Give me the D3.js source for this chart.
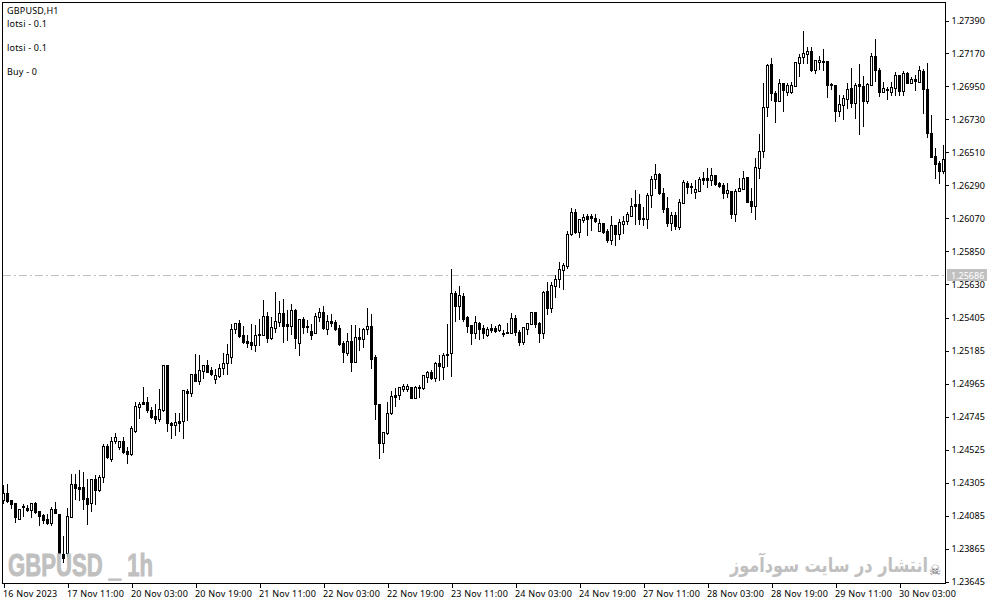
<!DOCTYPE html>
<html><head><meta charset="utf-8">
<script src="https://d3js.org/d3.v7.min.js"></script>
<style>html,body{margin:0;padding:0;background:#fff;overflow:hidden}svg{display:block}</style>
</head><body><div id="c"></div><script>
const opens=[1.24186,1.24232,1.24186,1.24165,1.24059,1.24139,1.24132,1.24119,1.24165,1.24112,
1.24085,1.24059,1.24032,1.24125,1.24092,1.23825,1.23832,1.24072,1.24292,1.24272,
1.24272,1.24199,1.24165,1.24326,1.24252,1.24339,1.24546,1.24459,1.24579,1.24539,
1.24579,1.24513,1.24493,1.24646,1.24806,1.24840,1.24840,1.24786,1.24746,1.24726,
1.24786,1.25087,1.24700,1.24686,1.24713,1.24713,1.24913,1.24900,1.25027,1.24980,
1.25047,1.25087,1.25053,1.24993,1.25013,1.25067,1.25100,1.25140,1.25327,1.25367,
1.25287,1.25247,1.25240,1.25220,1.25294,1.25287,1.25414,1.25267,1.25334,1.25374,
1.25434,1.25360,1.25347,1.25454,1.25234,1.25394,1.25340,1.25314,1.25300,1.25407,
1.25441,1.25327,1.25381,1.25374,1.25334,1.25234,1.25167,1.25247,1.25107,1.25274,
1.25260,1.25327,1.25347,1.25140,1.24826,1.24566,1.24633,1.24766,1.24886,1.24886,
1.24927,1.24927,1.24940,1.24866,1.24933,1.24933,1.25007,1.25040,1.25000,1.25100,
1.25073,1.25154,1.25167,1.25567,1.25481,1.25547,1.25407,1.25354,1.25300,1.25367,
1.25334,1.25287,1.25334,1.25334,1.25320,1.25294,1.25300,1.25300,1.25401,1.25307,
1.25240,1.25327,1.25360,1.25441,1.25367,1.25300,1.25581,1.25467,1.25614,1.25661,
1.25721,1.25748,1.25961,1.26108,1.25975,1.26055,1.26081,1.26081,1.26068,1.25981,
1.26035,1.25981,1.25921,1.26021,1.25961,1.26028,1.26048,1.26081,1.26162,1.26162,
1.26061,1.26061,1.26222,1.26328,1.26362,1.26235,1.26135,1.26035,1.26088,1.26008,
1.26168,1.26302,1.26275,1.26242,1.26248,1.26335,1.26335,1.26322,1.26355,1.26302,
1.26288,1.26235,1.26248,1.26095,1.26248,1.26262,1.26342,1.26182,1.26148,1.26402,
1.26515,1.26809,1.27096,1.26903,1.26849,1.26969,1.26909,1.26909,1.26949,1.27103,
1.27143,1.27163,1.27183,1.27056,1.27110,1.27110,1.27116,1.26963,1.26956,1.26782,
1.26823,1.26863,1.26936,1.26836,1.26963,1.26949,1.26849,1.26956,1.27150,1.27056,
1.26909,1.26923,1.26909,1.26936,1.27023,1.26916,1.27036,1.26969,1.26996,1.26976,
1.27050,1.26929,1.26636,1.26482,1.26435,1.26382];
const highs=[1.24286,1.24292,1.24186,1.24165,1.24125,1.24159,1.24152,1.24165,1.24172,1.24112,
1.24092,1.24092,1.24139,1.24172,1.24092,1.23945,1.24132,1.24359,1.24359,1.24386,
1.24372,1.24326,1.24326,1.24352,1.24352,1.24559,1.24559,1.24606,1.24633,1.24579,
1.24606,1.24539,1.24680,1.24840,1.24840,1.24940,1.24873,1.24806,1.24826,1.24927,
1.25087,1.25087,1.24706,1.24766,1.24766,1.24920,1.24927,1.25027,1.25160,1.25154,
1.25087,1.25120,1.25073,1.25060,1.25094,1.25167,1.25227,1.25360,1.25367,1.25387,
1.25347,1.25287,1.25360,1.25354,1.25394,1.25521,1.25441,1.25407,1.25574,1.25514,
1.25527,1.25454,1.25494,1.25461,1.25394,1.25407,1.25387,1.25360,1.25434,1.25467,
1.25481,1.25421,1.25427,1.25387,1.25354,1.25247,1.25300,1.25354,1.25354,1.25334,
1.25334,1.25467,1.25427,1.25154,1.24826,1.24640,1.24840,1.24913,1.24933,1.24940,
1.24960,1.24960,1.24940,1.24947,1.24953,1.25020,1.25047,1.25053,1.25107,1.25154,
1.25167,1.25360,1.25728,1.25581,1.25614,1.25567,1.25414,1.25354,1.25414,1.25374,
1.25354,1.25340,1.25360,1.25347,1.25360,1.25320,1.25367,1.25434,1.25421,1.25320,
1.25340,1.25367,1.25441,1.25441,1.25374,1.25581,1.25641,1.25641,1.25688,1.25774,
1.25768,1.25981,1.26135,1.26128,1.26061,1.26095,1.26095,1.26095,1.26095,1.26061,
1.26035,1.25995,1.26081,1.26021,1.26061,1.26081,1.26108,1.26202,1.26255,1.26228,
1.26142,1.26235,1.26349,1.26429,1.26369,1.26268,1.26208,1.26108,1.26108,1.26195,
1.26322,1.26315,1.26302,1.26322,1.26342,1.26375,1.26402,1.26402,1.26355,1.26309,
1.26302,1.26302,1.26248,1.26262,1.26335,1.26382,1.26342,1.26268,1.26469,1.26629,
1.26969,1.27096,1.27136,1.26916,1.26996,1.26969,1.26969,1.26976,1.27110,1.27163,
1.27317,1.27210,1.27210,1.27123,1.27150,1.27196,1.27116,1.26969,1.26956,1.26889,
1.26889,1.26969,1.27070,1.26969,1.27096,1.27016,1.26969,1.27170,1.27263,1.27070,
1.26976,1.26943,1.26976,1.27043,1.27023,1.27050,1.27043,1.27010,1.27023,1.27083,
1.27063,1.27103,1.26756,1.26535,1.26449,1.26555];
const lows=[1.24165,1.24172,1.24132,1.24039,1.24059,1.24079,1.24112,1.24072,1.24099,1.24019,
1.24032,1.24025,1.24019,1.24099,1.23812,1.23772,1.23812,1.24072,1.24192,1.24186,
1.24125,1.24025,1.24112,1.24159,1.24246,1.24306,1.24466,1.24446,1.24566,1.24526,
1.24499,1.24433,1.24486,1.24640,1.24733,1.24826,1.24773,1.24733,1.24700,1.24713,
1.24780,1.24646,1.24600,1.24620,1.24646,1.24600,1.24720,1.24880,1.24980,1.24960,
1.25000,1.25040,1.25020,1.24967,1.25007,1.25027,1.25027,1.25100,1.25300,1.25274,
1.25234,1.25207,1.25194,1.25180,1.25220,1.25287,1.25240,1.25260,1.25307,1.25347,
1.25240,1.25254,1.25294,1.25200,1.25154,1.25300,1.25307,1.25260,1.25300,1.25381,
1.25327,1.25294,1.25347,1.25320,1.25220,1.25107,1.25154,1.25047,1.25107,1.25187,
1.25207,1.25294,1.25067,1.24726,1.24466,1.24506,1.24626,1.24760,1.24813,1.24860,
1.24913,1.24913,1.24866,1.24866,1.24873,1.24927,1.24973,1.24993,1.24980,1.24987,
1.24993,1.25080,1.25013,1.25381,1.25394,1.25381,1.25307,1.25227,1.25267,1.25260,
1.25267,1.25280,1.25307,1.25307,1.25314,1.25280,1.25300,1.25300,1.25287,1.25220,
1.25227,1.25294,1.25360,1.25340,1.25240,1.25267,1.25427,1.25441,1.25541,1.25608,
1.25594,1.25734,1.25955,1.25968,1.25941,1.26041,1.25955,1.25988,1.26041,1.25981,
1.25968,1.25908,1.25895,1.25888,1.25928,1.25968,1.26028,1.26081,1.26028,1.26028,
1.26021,1.26001,1.26142,1.26268,1.26228,1.26108,1.26015,1.25988,1.25995,1.25995,
1.26168,1.26235,1.26235,1.26202,1.26248,1.26295,1.26275,1.26288,1.26288,1.26275,
1.26202,1.26208,1.26068,1.26048,1.26248,1.26262,1.26175,1.26108,1.26061,1.26335,
1.26475,1.26749,1.26856,1.26709,1.26849,1.26782,1.26889,1.26903,1.26949,1.27016,
1.27103,1.27103,1.27050,1.27036,1.27063,1.27056,1.26876,1.26929,1.26716,1.26749,
1.26729,1.26802,1.26809,1.26736,1.26629,1.26682,1.26836,1.26956,1.26983,1.26883,
1.26909,1.26863,1.26889,1.26889,1.26889,1.26889,1.26969,1.26969,1.26923,1.26976,
1.26769,1.26609,1.26475,1.26335,1.26302,1.26369];
const closes=[1.24232,1.24179,1.24159,1.24072,1.24125,1.24145,1.24119,1.24165,1.24105,1.24079,
1.24052,1.24032,1.24125,1.24099,1.23832,1.23798,1.24079,1.24292,1.24266,1.24259,
1.24192,1.24159,1.24326,1.24252,1.24339,1.24546,1.24473,1.24579,1.24606,1.24579,
1.24506,1.24493,1.24666,1.24813,1.24826,1.24826,1.24786,1.24740,1.24726,1.24793,
1.25087,1.24700,1.24686,1.24706,1.24700,1.24920,1.24900,1.25027,1.24980,1.25053,
1.25087,1.25040,1.25027,1.25020,1.25067,1.25100,1.25160,1.25327,1.25367,1.25280,
1.25240,1.25234,1.25220,1.25287,1.25287,1.25414,1.25267,1.25340,1.25381,1.25434,
1.25347,1.25347,1.25454,1.25267,1.25394,1.25340,1.25347,1.25287,1.25414,1.25441,
1.25334,1.25381,1.25367,1.25327,1.25227,1.25174,1.25247,1.25107,1.25274,1.25260,
1.25327,1.25347,1.25127,1.24826,1.24566,1.24640,1.24766,1.24880,1.24873,1.24940,
1.24947,1.24947,1.24866,1.24940,1.24940,1.25020,1.25040,1.25000,1.25100,1.25080,
1.25154,1.25160,1.25567,1.25481,1.25554,1.25394,1.25347,1.25300,1.25374,1.25327,
1.25300,1.25327,1.25320,1.25314,1.25354,1.25300,1.25307,1.25401,1.25307,1.25240,
1.25340,1.25367,1.25441,1.25360,1.25300,1.25574,1.25467,1.25621,1.25661,1.25728,
1.25754,1.25961,1.26108,1.25975,1.26061,1.26075,1.26061,1.26068,1.26048,1.26035,
1.25975,1.25921,1.26021,1.25961,1.26041,1.26048,1.26095,1.26148,1.26148,1.26061,
1.26068,1.26222,1.26328,1.26362,1.26235,1.26128,1.26035,1.26088,1.26015,1.26175,
1.26309,1.26275,1.26282,1.26262,1.26328,1.26322,1.26322,1.26355,1.26295,1.26282,
1.26235,1.26255,1.26095,1.26248,1.26268,1.26335,1.26175,1.26148,1.26409,1.26515,
1.26809,1.27090,1.26903,1.26849,1.26969,1.26923,1.26956,1.26956,1.27110,1.27143,
1.27170,1.27183,1.27056,1.27123,1.27123,1.27116,1.26956,1.26956,1.26782,1.26829,
1.26869,1.26929,1.26836,1.26956,1.26949,1.26849,1.26963,1.27150,1.27056,1.26909,
1.26936,1.26929,1.26943,1.27023,1.26916,1.27036,1.26969,1.26996,1.26983,1.27056,
1.26929,1.26636,1.26475,1.26429,1.26382,1.26462];
const priceTicks=[1.27390,1.27170,1.26950,1.26730,1.26510,1.26290,1.26070,1.25850,1.25630,1.25405,1.25185,1.24965,1.24745,1.24525,1.24305,1.24085,1.23865,1.23645];
const timeLabels=["16 Nov 2023","17 Nov 11:00","20 Nov 03:00","20 Nov 19:00","21 Nov 11:00","22 Nov 03:00","22 Nov 19:00","23 Nov 11:00","24 Nov 03:00","24 Nov 19:00","27 Nov 11:00","28 Nov 03:00","28 Nov 19:00","29 Nov 11:00","30 Nov 03:00"];
const timeTickIndex=[0,16,32,48,64,80,96,112,128,144,160,176,192,208,224];
const currentPrice=1.25686;
const infoLines=[["GBPUSD,H1",10],["lotsi - 0.1",23],["lotsi - 0.1",47],["Buy - 0",71]];

const W=991,H=605,font='"Noto Sans",sans-serif';
const svg=d3.select("#c").append("svg").attr("width",W).attr("height",H).style("background","#fff");
const x=d3.scaleLinear().domain([0,opens.length-1]).range([3.5,943.5]);
const y=d3.scaleLinear().domain([1.23645,1.27390]).range([581.5,20.5]);
const py=v=>Math.round(y(v)-.5)+.5;

const frame=svg.append("g").attr("shape-rendering","crispEdges");
frame.append("rect").attr("x",2.5).attr("y",2.5).attr("width",943).attr("height",581).attr("fill","#fff").attr("stroke","#000");

svg.append("line").attr("x1",3).attr("x2",945).attr("y1",py(currentPrice)).attr("y2",py(currentPrice))
 .attr("stroke","#c0c0c0").attr("stroke-dasharray","8 3 2 3").attr("shape-rendering","crispEdges");

const bars=svg.append("g").attr("shape-rendering","crispEdges");
const data=opens.map((o,i)=>({i,o,h:highs[i],l:lows[i],c:closes[i]}));
bars.selectAll("line").data(data).join("line")
 .attr("x1",d=>x(d.i)).attr("x2",d=>x(d.i)).attr("y1",d=>py(d.h)-.5).attr("y2",d=>py(d.l)+.5).attr("stroke","#000");
bars.selectAll("rect").data(data).join("rect")
 .attr("x",d=>x(d.i)-1).attr("width",2)
 .attr("y",d=>py(Math.max(d.o,d.c))).attr("height",d=>py(Math.min(d.o,d.c))-py(Math.max(d.o,d.c)))
 .attr("fill",d=>d.c<d.o?"#000":"#fff").attr("stroke","#000");

const yAxis=d3.axisRight(y).tickValues(priceTicks).tickFormat(d3.format(".5f")).tickSize(3).tickPadding(3);
const ya=svg.append("g").attr("transform","translate(945.5,0)").call(yAxis);
ya.select(".domain").remove();
ya.selectAll("line").attr("stroke","#000").attr("shape-rendering","crispEdges");
ya.selectAll("text").attr("font-family",font).attr("font-size",9).attr("fill","#000").attr("x",6);

const xAxis=d3.axisBottom(x).tickValues(timeTickIndex).tickFormat((d,i)=>timeLabels[i]).tickSize(4).tickPadding(3);
const xa=svg.append("g").attr("transform","translate(0,583.5)").call(xAxis);
xa.select(".domain").remove();
xa.selectAll("line").attr("stroke","#000").attr("shape-rendering","crispEdges");
xa.selectAll("text").attr("font-family",font).attr("font-size",9).attr("letter-spacing",0.2).attr("fill","#000").attr("text-anchor","start").attr("x",-1);

svg.append("rect").attr("x",947).attr("y",py(currentPrice)-6.5).attr("width",40).attr("height",12).attr("fill","#c0c0c0");
svg.append("text").attr("x",951).attr("y",py(currentPrice)+3.5).text(d3.format(".5f")(currentPrice))
 .attr("font-family",font).attr("font-size",9).attr("fill","#fff");

svg.append("g").selectAll("text").data(infoLines).join("text")
 .attr("x",7).attr("y",d=>d[1]+3.5).text(d=>d[0]).attr("font-family",font).attr("font-size",9).attr("letter-spacing",0.2).attr("fill","#000");

svg.append("text").attr("x",8).attr("y",576).attr("font-family",'"Liberation Sans",sans-serif').attr("font-weight","bold")
 .attr("font-size",32).attr("fill","#c0c0c0").attr("stroke","#c0c0c0").attr("stroke-width",0.9)
 .attr("textLength",145).attr("lengthAdjust","spacingAndGlyphs").text("GBPUSD _ 1h");
svg.append("text").attr("x",730).attr("y",572).attr("font-family",'"DejaVu Sans",sans-serif').attr("font-weight","bold").attr("font-size",20)
 .attr("fill","#c0c0c0").attr("direction","rtl").attr("text-anchor","end").attr("textLength",198).attr("lengthAdjust","spacingAndGlyphs").text("انتشار در سایت سودآموز");
svg.append("text").attr("x",935).attr("y",575).attr("text-anchor","middle").attr("font-family",'"DejaVu Sans",sans-serif')
 .attr("font-size",14).attr("fill","#666").text("☠");
</script></body></html>
